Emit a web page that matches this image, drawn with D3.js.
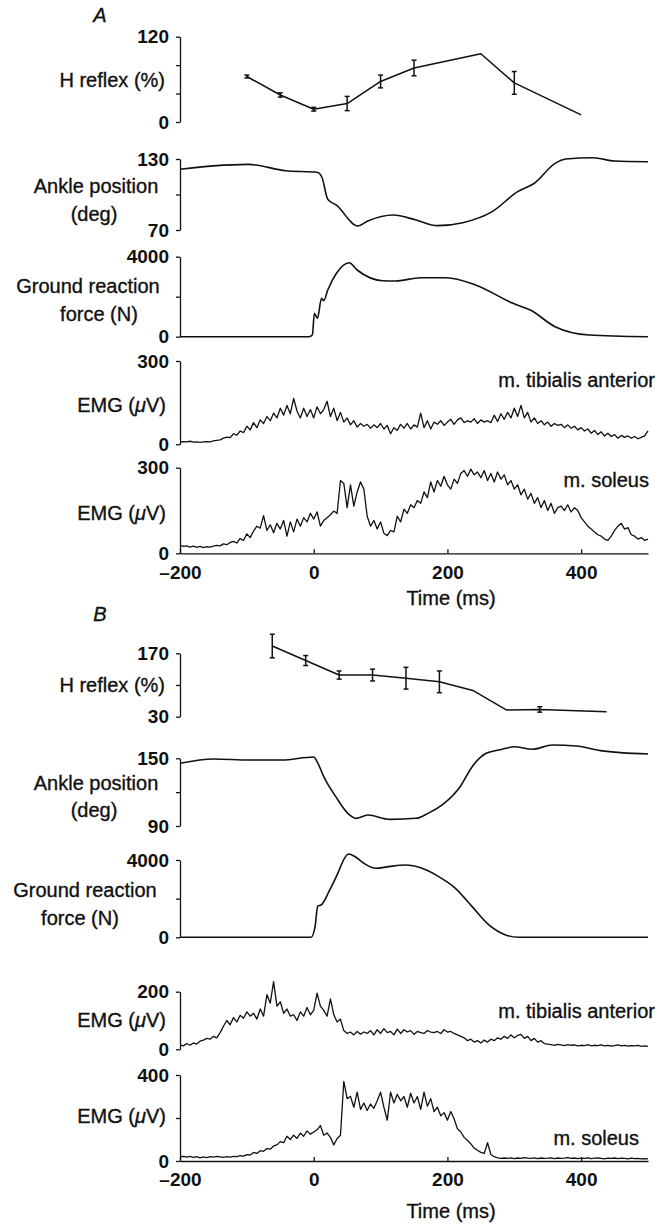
<!DOCTYPE html>
<html>
<head>
<meta charset="utf-8">
<script src="https://cdn.jsdelivr.net/npm/d3@7"></script>
<style>
    body { margin: 0; background: #fff; }
    svg { display: block; font-family: "Liberation Sans", Arial, Helvetica, sans-serif; }
    .tick text { font-size: 19px; font-weight: bold; fill: #111; }
    .label { font-size: 20px; fill: #111; stroke: #111; stroke-width: 0.35px; }
</style>
</head>
<body>
<svg id="chart" width="661" height="1224"></svg>
<script>
// Stretch reflex figure: H reflex, ankle angle, ground reaction force and EMG
// around touchdown (t = 0). Panel A and panel B, two subjects.

// ---- Panel A data ----
const hTimeA = [-100, -50, 0, 50, 100, 150, 250, 300, 400];
const hReflexA = [64, 38, 18, 26, 57, 76, 96, 55, 10];
const hErrA = [2, 3, 2.6, 10, 9, 11, 0, 16, 0];

const ankleTimeA = [-200, -150, -98, -42, 5, 12, 21, 34, 66, 81, 119, 153, 185, 223, 267, 305, 330, 361, 377, 418, 450, 500];
const ankleA = [121.3, 124.2, 125.5, 120.1, 118.8, 115, 96, 91, 73.4, 77.6, 82.7, 78.5, 73.7, 76.2, 85.5, 102.4, 109.5, 126.3, 130, 131.1, 128.3, 127.7];

const grfTimeA = [-200, -7, -2, 1, 5.5, 11.7, 15, 21, 34, 53, 65, 103, 122, 160, 198, 242, 298, 324, 361, 412, 500];
const grfA = [0, 0, 100, 1170, 920, 1920, 1800, 2335, 3170, 3700, 3335, 2800, 2785, 2950, 2950, 2585, 1670, 1335, 500, 85, 0];

// EMG sampled every 5 ms from -200 to 500 ms
const emgTaA = [
    8, 10, 9, 11, 8, 9, 7, 9, 10, 9,
    12, 14, 16, 22, 26, 24, 38, 33, 48, 42,
    65, 52, 78, 60, 88, 75, 100, 85, 112, 95,
    130, 105, 140, 110, 165, 120, 95, 130, 100, 125,
    95, 135, 110, 125, 155, 100, 130, 85, 115, 80,
    95, 70, 85, 62, 75, 65, 72, 58, 70, 60,
    75, 55, 68, 38, 60, 50, 72, 58, 75, 55,
    70, 62, 112, 60, 85, 55, 80, 72, 85, 68,
    80, 90, 72, 88, 95, 78, 85, 80, 92, 75,
    88, 80, 85, 78, 105, 82, 110, 90, 115, 95,
    130, 100, 140, 95, 115, 80, 95, 75, 85, 70,
    80, 65, 75, 68, 72, 60, 70, 58, 65, 52,
    60, 48, 55, 40, 50, 35, 45, 30, 40, 28,
    35, 22, 32, 25, 30, 22, 28, 20, 25, 30,
    48
];
const emgSolA = [
    28, 24, 26, 22, 25, 21, 24, 20, 23, 22,
    25, 28, 26, 33, 30, 38, 42, 36, 52, 45,
    68, 55, 78, 95, 88, 132, 80, 100, 72, 105,
    85, 115, 60, 110, 75, 120, 95, 125, 110, 140,
    120, 145, 95, 115, 125, 135, 148, 140, 255, 245,
    160, 240, 165, 215, 250, 225, 130, 95, 115, 85,
    110, 70, 62, 80, 75, 130, 110, 155, 140, 170,
    160, 185, 175, 215, 195, 250, 215, 255, 235, 270,
    240, 225, 260, 245, 280, 290, 270, 295, 275, 285,
    265, 290, 255, 280, 250, 285, 260, 275, 240, 255,
    225, 240, 205, 225, 190, 210, 175, 195, 160, 185,
    150, 175, 140, 160, 165, 150, 170, 145, 160, 150,
    125, 110, 95, 85, 75, 65, 60, 50, 45, 60,
    80, 95, 105, 85, 90, 65, 60, 50, 55, 45,
    50
];

// ---- Panel B data ----
const hTimeB = [-62, -12, 38, 88, 138, 188, 238, 288, 338, 438];
const hReflexB = [186, 154, 122, 122, 115, 107, 88, 45, 46, 41];
const hErrB = [26, 11, 9, 13, 24, 24, 0, 0, 6, 0];

const ankleTimeB = [-200, -150, -96, -48, 0, 6, 15, 33, 51, 63, 81, 114, 153, 171, 195, 219, 237, 258, 282, 300, 327, 357, 393, 429, 500];
const ankleB = [145.6, 149.4, 148.5, 148.5, 151.2, 146, 133.7, 116, 101.2, 96.8, 99.7, 95.9, 96.8, 101.2, 110, 124.8, 142.6, 154.4, 158, 160.3, 158, 161.8, 160.9, 156.8, 153.8];

const grfTimeB = [-200, -4, 2, 6, 11, 24, 36, 46, 52, 62, 75, 93, 112, 137, 162, 187, 212, 237, 262, 287, 306, 500];
const grfB = [0, 0, 552, 1620, 1670, 2450, 3310, 4086, 4310, 4170, 3830, 3570, 3655, 3740, 3570, 3140, 2535, 1586, 638, 120, 0, 0];

const emgTaB = [
    15, 12, 20, 14, 22, 18, 28, 32, 38, 35,
    45, 40, 58, 80, 100, 85, 110, 95, 118, 108,
    130, 115, 125, 105, 140, 115, 190, 160, 235, 150,
    165, 125, 140, 115, 120, 100, 130, 115, 145, 120,
    135, 195, 150, 135, 115, 175, 120, 95, 105, 65,
    55, 60, 50, 62, 52, 60, 55, 65, 50, 68,
    55, 72, 58, 62, 50, 70, 55, 68, 60, 65,
    52, 62, 58, 55, 65, 60, 58, 62, 55, 68,
    60, 62, 55, 50, 45, 40, 30, 35, 25, 30,
    22, 32, 25, 35, 30, 40, 35, 45, 38, 50,
    40, 48, 52, 38, 45, 30, 38, 25, 30, 20,
    18, 16, 14, 17, 15, 13, 16, 14, 15, 12,
    14, 13, 16, 12, 14, 13, 15, 12, 14, 11,
    13, 15, 12, 14, 11, 13, 12, 14, 10, 12,
    10
];
const emgSolB = [
    20, 22, 18, 21, 17, 20, 15, 19, 16, 20,
    18, 21, 19, 17, 20, 18, 21, 20, 25, 23,
    30, 28, 40, 35, 48, 45, 58, 55, 70, 75,
    90, 85, 115, 100, 120, 105, 130, 115, 140, 125,
    135, 145, 165, 120, 130, 110, 75, 105, 120, 370,
    290, 300, 250, 320, 240, 270, 235, 265, 245, 280,
    320, 250, 190, 320, 270, 310, 280, 300, 250, 315,
    270, 300, 240, 320, 255, 290, 230, 250, 210, 225,
    190, 230, 195, 150, 135, 110, 95, 80, 60, 50,
    40, 35, 85, 30, 20, 15, 12, 14, 12, 15,
    11, 14, 12, 16, 13, 12, 15, 11, 14, 12,
    13, 15, 11, 14, 12, 13, 16, 12, 14, 11,
    13, 12, 15, 11, 13, 14, 12, 10, 13, 12,
    14, 11, 13, 12, 10, 13, 11, 12, 10, 11,
    10
];

const emgTime = d3.range(-200, 501, 5);
const xTicks = [-200, 0, 200, 400];

const svg = d3.select('#chart');
const x = d3.scaleLinear().domain([-200, 500]).range([180, 648]);

// one y axis per trace
function panelAxis(range, domain, ticks) {
    const y = d3.scaleLinear().domain(domain).range(range);
    const labelled = [domain[0], domain[1]];
    svg.append('g')
        .attr('transform', `translate(${x(-200)},0)`)
        .call(d3.axisLeft(y)
            .tickValues(ticks)
            .tickSizeInner(4)
            .tickSizeOuter(0)
            .tickPadding(7)
            .tickFormat(d => labelled.includes(d) ? d : ''))
        .call(g => g.selectAll('path, line').attr('stroke', '#111').attr('stroke-width', 1.3));
    return y;
}

function drawLine(xs, ys, y, curve, width) {
    const pts = xs.map((t, i) => [t, ys[i]]);
    svg.append('path')
        .datum(pts)
        .attr('fill', 'none')
        .attr('stroke', '#111')
        .attr('stroke-width', width)
        .attr('stroke-linejoin', 'round')
        .attr('d', d3.line().x(d => x(d[0])).y(d => y(d[1])).curve(curve));
}

function drawReflex(times, vals, errs, y) {
    drawLine(times, vals, y, d3.curveLinear, 1.5);
    const bars = times.map((t, i) => ({ t, v: vals[i], e: errs[i] })).filter(d => d.e > 0);
    const g = svg.append('g').attr('stroke', '#111').attr('stroke-width', 1.5);
    g.selectAll('.bar').data(bars).enter().append('line')
        .attr('x1', d => x(d.t)).attr('x2', d => x(d.t))
        .attr('y1', d => y(d.v - d.e)).attr('y2', d => y(d.v + d.e));
    [-1, 1].forEach(s => {
        g.selectAll(null).data(bars).enter().append('line')
            .attr('x1', d => x(d.t) - 2.5).attr('x2', d => x(d.t) + 2.5)
            .attr('y1', d => y(d.v + s * d.e)).attr('y2', d => y(d.v + s * d.e));
    });
}

function timeAxis(yPos, labelY) {
    svg.append('g')
        .attr('transform', `translate(0,${yPos})`)
        .call(d3.axisBottom(x)
            .tickValues(xTicks)
            .tickSizeInner(-4)
            .tickSizeOuter(0)
            .tickPadding(12)
            .tickFormat(d => d < 0 ? '\u2013' + Math.abs(d) : d))
        .call(g => g.selectAll('path, line').attr('stroke', '#111').attr('stroke-width', 1.3));
    svg.append('text').attr('class', 'label')
        .attr('x', 451).attr('y', labelY)
        .attr('text-anchor', 'middle')
        .text('Time (ms)');
}

function label(lines, xPos, yPos, anchor) {
    lines.forEach((s, i) => {
        svg.append('text').attr('class', 'label')
            .attr('x', xPos[i]).attr('y', yPos[i])
            .attr('text-anchor', anchor)
            .text(s);
    });
}

function emgLabel(xPos, yPos) {
    const t = svg.append('text').attr('class', 'label')
        .attr('x', xPos).attr('y', yPos).attr('text-anchor', 'end');
    t.append('tspan').text('EMG (');
    t.append('tspan').attr('font-style', 'italic').text('\u03bc');
    t.append('tspan').text('V)');
}

// ---------- Panel A ----------
svg.append('text').attr('class', 'label').attr('x', 100).attr('y', 22).attr('text-anchor', 'middle')
    .attr('font-style', 'italic').text('A');

const yHA = panelAxis([122, 36.7], [0, 120], [0, 40, 80, 120]);
drawReflex(hTimeA, hReflexA, hErrA, yHA);
label(['H reflex (%)'], [165], [87], 'end');

const yAnkA = panelAxis([230, 159], [70, 130], [70, 100, 130]);
drawLine(ankleTimeA, ankleA, yAnkA, d3.curveMonotoneX, 1.6);
label(['Ankle position', '(deg)'], [96, 94], [193, 221], 'middle');

const yGrfA = panelAxis([336.7, 256.7], [0, 4000], [0, 2000, 4000]);
drawLine(grfTimeA, grfA, yGrfA, d3.curveMonotoneX, 1.6);
label(['Ground reaction', 'force (N)'], [88, 99], [293, 321], 'middle');

const yTaA = panelAxis([444.3, 361], [0, 300], [0, 300]);
drawLine(emgTime, emgTaA, yTaA, d3.curveLinear, 1.3);
emgLabel(166, 412);
label(['m. tibialis anterior'], [655], [387], 'end');

const ySolA = panelAxis([553.3, 467.7], [0, 300], [0, 300]);
drawLine(emgTime, emgSolA, ySolA, d3.curveLinear, 1.3);
emgLabel(166, 520);
label(['m. soleus'], [649], [487], 'end');
timeAxis(553.3, 605);

// ---------- Panel B ----------
svg.append('text').attr('class', 'label').attr('x', 100).attr('y', 621).attr('text-anchor', 'middle')
    .attr('font-style', 'italic').text('B');

const yHB = panelAxis([716.7, 653.3], [30, 170], [30, 100, 170]);
drawReflex(hTimeB, hReflexB, hErrB, yHB);
label(['H reflex (%)'], [165], [692], 'end');

const yAnkB = panelAxis([826, 758.3], [90, 150], [90, 120, 150]);
drawLine(ankleTimeB, ankleB, yAnkB, d3.curveMonotoneX, 1.6);
label(['Ankle position', '(deg)'], [96, 94], [790, 817], 'middle');

const yGrfB = panelAxis([937.3, 860], [0, 4000], [0, 2000, 4000]);
drawLine(grfTimeB, grfB, yGrfB, d3.curveMonotoneX, 1.6);
label(['Ground reaction', 'force (N)'], [85, 80], [897, 925], 'middle');

const yTaB = panelAxis([1049.3, 991.7], [0, 200], [0, 200]);
drawLine(emgTime, emgTaB, yTaB, d3.curveLinear, 1.3);
emgLabel(166, 1027);
label(['m. tibialis anterior'], [655], [1018], 'end');

const ySolB = panelAxis([1161, 1075], [0, 400], [0, 200, 400]);
drawLine(emgTime, emgSolB, ySolB, d3.curveLinear, 1.3);
emgLabel(166, 1123);
label(['m. soleus'], [639], [1145], 'end');
timeAxis(1161, 1218);
</script>
</body>
</html>
